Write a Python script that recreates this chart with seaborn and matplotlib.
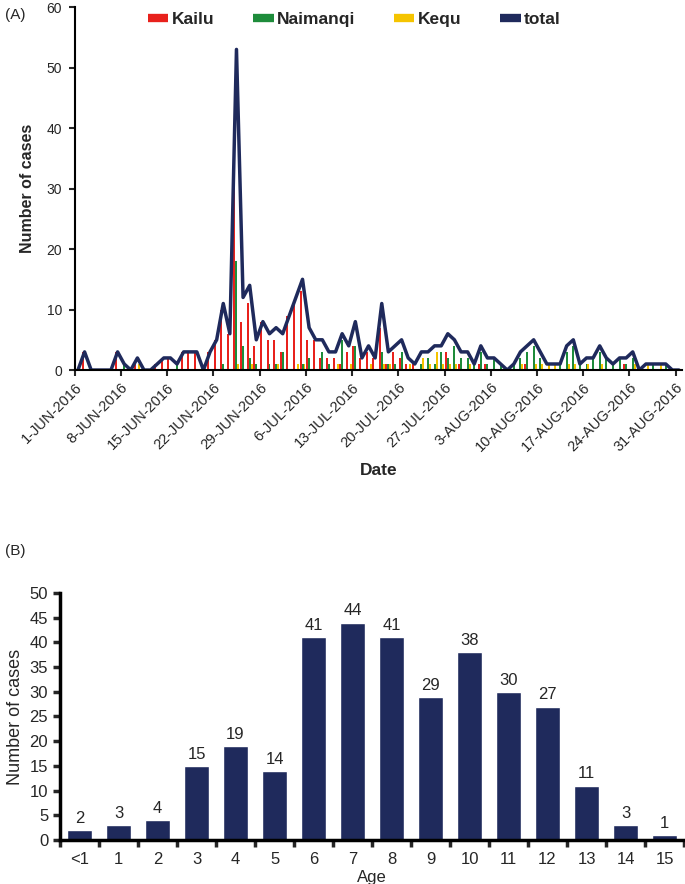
import numpy as np
import pandas as pd
import matplotlib
matplotlib.use("Agg")
import matplotlib.pyplot as plt
from matplotlib.lines import Line2D
import seaborn as sns

# daily cases, 1 Jun - 31 Aug 2016
dates = pd.date_range("2016-06-01", "2016-08-31", freq="D")

kailu = [0, 3, 0, 0, 0, 0, 3,
         0, 0, 1, 0, 0, 1, 2,
         2, 0, 3, 3, 3, 0, 3,
         5, 10, 6, 34, 8, 11, 4,
         8, 5, 5, 3, 9, 11, 13,
         5, 5, 2, 2, 2, 1, 3,
         4, 2, 3, 2, 7, 1, 3,
         2, 1, 1, 0, 0, 0, 0,
         3, 0, 1, 0, 0, 1, 1,
         0, 0, 0, 0, 0, 1, 0,
         0, 0, 0, 0, 0, 0, 0,
         0, 0, 0, 0, 0, 0, 1,
         0, 0, 0, 0, 0, 0, 0,
         0]
naimanqi = [0, 0, 0, 0, 0, 0, 0,
            1, 0, 0, 0, 0, 0, 0,
            0, 1, 0, 0, 0, 0, 0,
            0, 1, 0, 18, 4, 2, 1,
            0, 1, 1, 3, 0, 0, 1,
            2, 0, 3, 1, 0, 5, 0,
            4, 0, 0, 0, 3, 1, 1,
            3, 0, 0, 1, 2, 1, 3,
            2, 4, 2, 2, 1, 3, 1,
            2, 1, 0, 1, 2, 3, 4,
            2, 0, 0, 1, 3, 4, 1,
            1, 2, 3, 2, 1, 2, 1,
            2, 0, 0, 1, 0, 1, 0,
            0]
kequ = [0, 0, 0, 0, 0, 0, 0,
        0, 0, 1, 0, 0, 0, 0,
        0, 0, 0, 0, 0, 0, 0,
        0, 0, 0, 1, 0, 1, 0,
        0, 0, 1, 0, 0, 1, 1,
        0, 0, 0, 0, 1, 0, 1,
        0, 0, 1, 0, 1, 1, 0,
        0, 1, 0, 2, 1, 3, 1,
        1, 1, 0, 1, 0, 0, 0,
        0, 0, 0, 0, 1, 0, 1,
        1, 1, 1, 0, 1, 1, 0,
        1, 0, 1, 0, 0, 0, 0,
        1, 0, 1, 0, 1, 0, 0,
        0]
total = [0, 3, 0, 0, 0, 0, 3,
         1, 0, 2, 0, 0, 1, 2,
         2, 1, 3, 3, 3, 0, 3,
         5, 11, 6, 53, 12, 14, 5,
         8, 6, 7, 6, 9, 12, 15,
         7, 5, 5, 3, 3, 6, 4,
         8, 2, 4, 2, 11, 3, 4,
         5, 2, 1, 3, 3, 4, 4,
         6, 5, 3, 3, 1, 4, 2,
         2, 1, 0, 1, 3, 4, 5,
         3, 1, 1, 1, 4, 5, 1,
         2, 2, 4, 2, 1, 2, 2,
         3, 0, 1, 1, 1, 1, 0,
         0]

# cases by age
ages = ["<1", "1", "2", "3", "4", "5", "6", "7", "8", "9", "10", "11", "12", "13", "14", "15"]
age_cases = [2, 3, 4, 15, 19, 14, 41, 44, 41, 29, 38, 30, 27, 11, 3, 1]

regions = ["Kailu", "Naimanqi", "Kequ"]
colors = {"Kailu": "#E8211C", "Naimanqi": "#1E8C3B", "Kequ": "#F5C400"}
navy = "#1F2A5C"

sns.set_theme(style="ticks")
plt.rcParams["font.family"] = ["Liberation Sans", "DejaVu Sans"]

day_idx = np.arange(len(dates))
df = pd.DataFrame({
    "day": np.tile(day_idx, 3),
    "region": np.repeat(regions, len(dates)),
    "cases": kailu + naimanqi + kequ,
})

fig = plt.figure(figsize=(6.85, 8.84), dpi=100)
ax1 = fig.add_axes([0.109, 0.5814, 0.887, 0.4106])
ax2 = fig.add_axes([0.0876, 0.0498, 0.911, 0.2794])

# --- panel A ---
sns.barplot(data=df, x="day", y="cases", hue="region", hue_order=regions,
            palette=colors, width=0.9, dodge=True, legend=False,
            saturation=1, linewidth=0, ax=ax1)
sns.lineplot(x=day_idx, y=total, color=navy, lw=2.5, ax=ax1)

ax1.set_xlim(-0.5, len(dates) - 0.5)
ax1.set_ylim(0, 60)
ax1.set_yticks(range(0, 61, 10))
tick_pos = np.arange(0, len(dates), 7)
ax1.set_xticks(tick_pos - 0.5)
ax1.set_xticklabels([f"{dates[i].day}-{dates[i].strftime('%b').upper()}-{dates[i].year}"
                     for i in tick_pos],
                    rotation=45, ha="right", rotation_mode="anchor", fontsize=10.5)
ax1.tick_params(axis="y", labelsize=10, width=1.5, length=4, pad=5)
ax1.tick_params(axis="x", width=1.5, length=4)
ax1.set_xlabel("Date", fontsize=12.5, fontweight="bold", labelpad=6)
ax1.set_ylabel("Number of cases", fontsize=11.5, fontweight="bold", labelpad=8)
sns.despine(ax=ax1)
for s in ["left", "bottom"]:
    ax1.spines[s].set_linewidth(1.5)
    ax1.spines[s].set_color("black")

handles = [Line2D([0], [0], color=colors[r], lw=6, solid_capstyle="butt") for r in regions]
handles.append(Line2D([0], [0], color=navy, lw=6, solid_capstyle="butt"))
ax1.legend(handles, regions + ["total"], loc="upper center",
           bbox_to_anchor=(0.46, 1.03), ncol=4, frameon=False,
           handlelength=1.2, handletextpad=0.2, columnspacing=2.2,
           prop={"weight": "bold", "size": 12.5})

# --- panel B ---
sns.barplot(x=ages, y=age_cases, color=navy, saturation=1, width=0.62, ax=ax2)
ax2.bar_label(ax2.containers[0], fontsize=12, padding=3)
ax2.set_xlim(-0.5, len(ages) - 0.5)
ax2.set_ylim(0, 50)
ax2.set_yticks(range(0, 51, 5))
ax2.set_xticks(np.arange(len(ages) + 1) - 0.5, minor=False)
ax2.set_xticklabels([])
ax2.set_xticks(np.arange(len(ages)), minor=True)
ax2.set_xticklabels(ages, minor=True)
ax2.tick_params(axis="x", which="minor", length=0, labelsize=12, pad=9)
ax2.tick_params(axis="x", which="major", width=2.5, length=5)
ax2.tick_params(axis="y", labelsize=12, width=2.5, length=5)
ax2.set_xlabel("Age", fontsize=12, labelpad=2)
ax2.set_ylabel("Number of cases", fontsize=13)
sns.despine(ax=ax2)
for s in ["left", "bottom"]:
    ax2.spines[s].set_linewidth(2.5)
    ax2.spines[s].set_color("black")

fig.text(0.008, 0.978, "(A)", fontsize=11)
fig.text(0.008, 0.372, "(B)", fontsize=11)

fig.savefig("out.png", dpi=100)
